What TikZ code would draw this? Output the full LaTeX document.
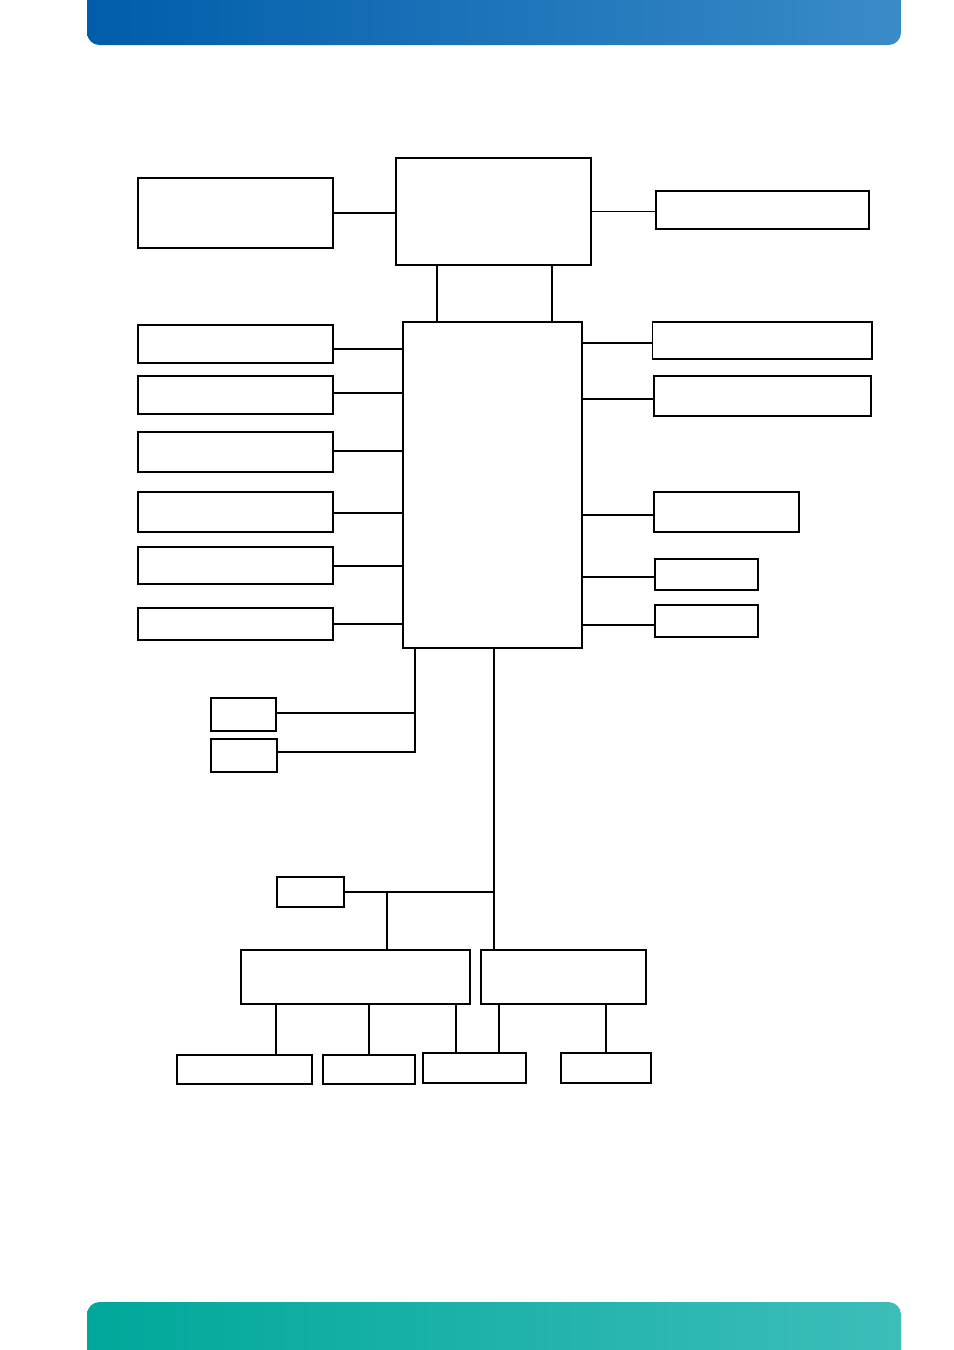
\documentclass[tikz,border=0pt]{standalone}
\usepackage{xcolor}
\usepackage{tikz}
\usetikzlibrary{positioning}
\definecolor{bandleft}{HTML}{005DAA}
\definecolor{bandmid}{HTML}{0073BC}
\definecolor{bandright}{HTML}{3A8BC8}
\definecolor{footleft}{HTML}{00A89A}
\definecolor{footmid}{HTML}{19B0A8}
\definecolor{footright}{HTML}{3DBDB9}
\tikzstyle{blk} = [rectangle, draw=black, line width=0.6pt, inner sep=0pt, outer sep=0pt]
\tikzstyle{tblk} = [blk, line width=1.4pt]
\tikzstyle{leftbox} = [blk, minimum width=3.9cm]
\tikzstyle{link} = [line width=0.6pt]
\tikzstyle{tlink} = [line width=1.4pt]

\begin{document}
\begin{tikzpicture}[x=0.02cm, y=-0.02cm]
\useasboundingbox (0,0) rectangle (954,1350);

% top and bottom bands
\shade [left color=bandleft, middle color=bandmid, right color=bandright, rounded corners=0.25cm] (87,-20) rectangle (901,45);
\shade [left color=footleft, middle color=footmid, right color=footright, rounded corners=0.25cm] (87,1302) rectangle (901,1370);

% processor and chipset
\node (cpu) [tblk, minimum width=3.9cm, minimum height=2.14cm] at (493.5,211.5) {};
\node (chip) [tblk, minimum width=3.58cm, minimum height=6.52cm] at (492.5,485) {};
\node (l1) [leftbox, minimum height=1.4cm] at (235.5,213) {};
\node (r1) [tblk, minimum width=4.26cm, minimum height=0.76cm] at (762.5,210) {};

% left side
\node (l2) [leftbox, minimum height=0.76cm] at (235.5,344) {};
\node (l3) [leftbox, line width=1.2pt, minimum height=0.76cm] at (235.5,395) {};
\node (l4) [leftbox, minimum height=0.8cm] at (235.5,452) {};
\node (l5) [leftbox, minimum height=0.8cm] at (235.5,512) {};
\node (l6) [leftbox, minimum height=0.74cm] at (235.5,565.5) {};
\node (l7) [leftbox, minimum height=0.64cm] at (235.5,624) {};

% right side
\node (r2) [blk, minimum width=4.4cm, minimum height=0.74cm] at (762,340.5) {};
\node (r3) [blk, minimum width=4.34cm, minimum height=0.8cm] at (762.5,396) {};
\node (r4) [blk, minimum width=2.9cm, minimum height=0.8cm] at (726.5,512) {};
\node (r5) [blk, minimum width=2.06cm, minimum height=0.62cm] at (706.5,574.5) {};
\node (r6) [blk, minimum width=2.06cm, minimum height=0.64cm] at (706.5,621) {};

% below the chipset
\node (s1) [blk, minimum width=1.3cm, minimum height=0.66cm] at (243.5,714.5) {};
\node (s2) [blk, minimum width=1.32cm, minimum height=0.66cm] at (244,755.5) {};
\node (m1) [tblk, minimum width=1.34cm, minimum height=0.6cm] at (310.5,892) {};
\node (b1) [tblk, minimum width=4.58cm, minimum height=1.08cm] at (355.5,977) {};
\node (b2) [tblk, minimum width=3.3cm, minimum height=1.08cm] at (563.5,977) {};
\node (d1) [blk, minimum width=2.7cm, minimum height=0.58cm] at (244.5,1069.5) {};
\node (d2) [blk, line width=1pt, minimum width=1.84cm, minimum height=0.58cm] at (369,1069.5) {};
\node (d3) [blk, line width=1pt, minimum width=2.06cm, minimum height=0.6cm] at (474.5,1068) {};
\node (d4) [blk, line width=1pt, minimum width=1.8cm, minimum height=0.6cm] at (606,1068) {};

\coordinate (up1) at (437,265);
\coordinate (up2) at (552,265);
\coordinate (j1) at (415,648);
\coordinate (j2) at (494,648);
\coordinate (j3) at (387,892);

\draw [link] (l1.east) -- (l1.east -| cpu.west);
\draw [link] (cpu.east) -- (cpu.east -| r1.west);
\draw [tlink] (up1) -- (up1 |- chip.north);
\draw [link] (up2) -- (up2 |- chip.north);
\foreach \n/\dy in {l2/5,l3/-2,l4/-1,l5/1,l6/0.5,l7/0}
  \draw [link] (\n.east) ++(0,\dy) coordinate (p) -- (p -| chip.west);
\foreach \n/\dy in {r2/2.5,r3/3,r4/3}
  \draw [link] (\n.west) ++(0,\dy) coordinate (p) -- (p -| chip.east);
\foreach \n/\dy in {r5/2.5,r6/4}
  \draw [tlink] (\n.west) ++(0,\dy) coordinate (p) -- (p -| chip.east);

\draw [link] (s2.east) ++(0,-3.5) coordinate (q2) -- (q2 -| j1) -- (j1);
\draw [link] (s1.east) ++(0,-1.5) coordinate (q1) -- (q1 -| j1);
\draw [link] (j2) -- (j2 |- b2.north);
\draw [link] (m1.east) -- (m1.east -| j2);
\draw [link] (j3) -- (j3 |- b1.north);

\draw [link] (d1.north) ++(31.5,0) coordinate (k1) -- (k1 |- b1.south);
\draw [link] (b1.south -| d2.north) -- (d2.north);
\draw [link] (d3.north) ++(-18.5,0) coordinate (k2) -- (k2 |- b1.south);
\draw [tlink] (d3.north) ++(24.5,0) coordinate (k3) -- (k3 |- b2.south);
\draw [tlink] (b2.south -| d4.north) -- (d4.north);

\end{tikzpicture}
\end{document}
